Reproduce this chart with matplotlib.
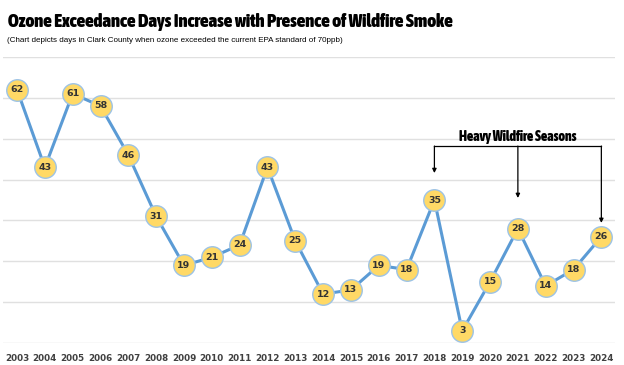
import matplotlib.pyplot as plt
import numpy as np
from matplotlib import font_manager

# Ozone exceedance days per year, Clark County
years = ['2003', '2004', '2005', '2006', '2007', '2008', '2009', '2010',
         '2011', '2012', '2013', '2014', '2015', '2016', '2017', '2018',
         '2019', '2020', '2021', '2022', '2023', '2024']
days = [62, 43, 61, 58, 46, 31, 19, 21, 24, 43, 25, 12, 13, 19, 18, 35,
        3, 15, 28, 14, 18, 26]
smoke_years = ['2018', '2021', '2024']


def condensed_bold():
    # look for any narrow / condensed bold face that is installed
    best = None
    for f in font_manager.fontManager.ttflist:
        name = f.name + ' ' + f.fname
        narrow = ('Narrow' in name or 'Condensed' in name
                  or str(f.stretch) in ('condensed', 'semi-condensed',
                                        'extra-condensed'))
        if not narrow:
            continue
        w = f.weight if isinstance(f.weight, int) else (
            700 if 'bold' in str(f.weight).lower() else 400)
        if 'Oblique' in f.fname or 'Italic' in f.fname:
            continue
        score = w
        if best is None or score > best[0]:
            best = (score, f.fname)
    if best is None:
        return font_manager.FontProperties(family='DejaVu Sans',
                                           weight='bold')
    return font_manager.FontProperties(fname=best[1])


def fit_width(txt, width_px):
    # shrink / grow a text so it spans the given pixel width
    fig.canvas.draw()
    r = fig.canvas.get_renderer()
    w = txt.get_window_extent(r).width
    txt.set_fontsize(txt.get_fontsize() * width_px / w)


x = np.arange(len(years))

fig = plt.figure(figsize=(6.24, 3.65), dpi=100)
ax = fig.add_axes([0.005, 0.06, 0.981, 0.784])

ax.plot(x, days, color='#5B9BD5', lw=2.2, zorder=2)
ax.plot(x, days, 'o', ms=15.5, mfc='#FFD966', mec='#9DC3E6', mew=1.0,
        zorder=3, linestyle='')
for xi, v in zip(x, days):
    ax.text(xi, v, str(v), ha='center', va='center', fontsize=6.8,
            fontweight='bold', color='#333333', family='DejaVu Sans',
            zorder=4)

ax.set_xlim(-0.5, len(years) - 0.5)
ax.set_ylim(0, 70)
ax.set_yticks(np.arange(0, 71, 10))
ax.yaxis.grid(True, color='#E0E0E0', lw=1.0)
ax.set_axisbelow(True)
ax.tick_params(axis='y', left=False, labelleft=False)
ax.tick_params(axis='x', bottom=False, pad=4)
ax.set_xticks(x)
ax.set_xticklabels(years, fontsize=6.3, fontweight='bold', color='#404040')
for s in ax.spines.values():
    s.set_visible(False)

cfont = condensed_bold()

# bracket for heavy wildfire seasons
bracket_y = 48.2
tips = [41.6, 35.5, 29.4]
sx = [years.index(y) for y in smoke_years]
ax.plot([sx[0], sx[-1]], [bracket_y, bracket_y], color='black', lw=0.9,
        clip_on=False, zorder=5)
for xi, tip in zip(sx, tips):
    ax.annotate('', xy=(xi, tip), xytext=(xi, bracket_y),
                arrowprops=dict(arrowstyle='-|>', color='black', lw=0.9,
                                mutation_scale=6, shrinkA=0, shrinkB=0),
                zorder=5)
note = ax.text(sx[1], bracket_y + 0.4, 'Heavy Wildfire Seasons', ha='center',
               va='bottom', fontproperties=cfont, fontsize=10.5,
               color='black', zorder=6)

title = fig.text(0.013, 1 - 22 / 365,
                 'Ozone Exceedance Days Increase with Presence of Wildfire Smoke',
                 fontproperties=cfont, fontsize=14, va='center', ha='left')
sub = fig.text(0.011, 1 - 41 / 365,
               '(Chart depicts days in Clark County when ozone exceeded '
               'the current EPA standard of 70ppb)', fontsize=6.0,
               family=['Liberation Sans', 'DejaVu Sans'], va='center',
               ha='left')

fit_width(title, 446)
fit_width(sub, 342)
fit_width(note, 118)

fig.savefig('out.png', dpi=100)
